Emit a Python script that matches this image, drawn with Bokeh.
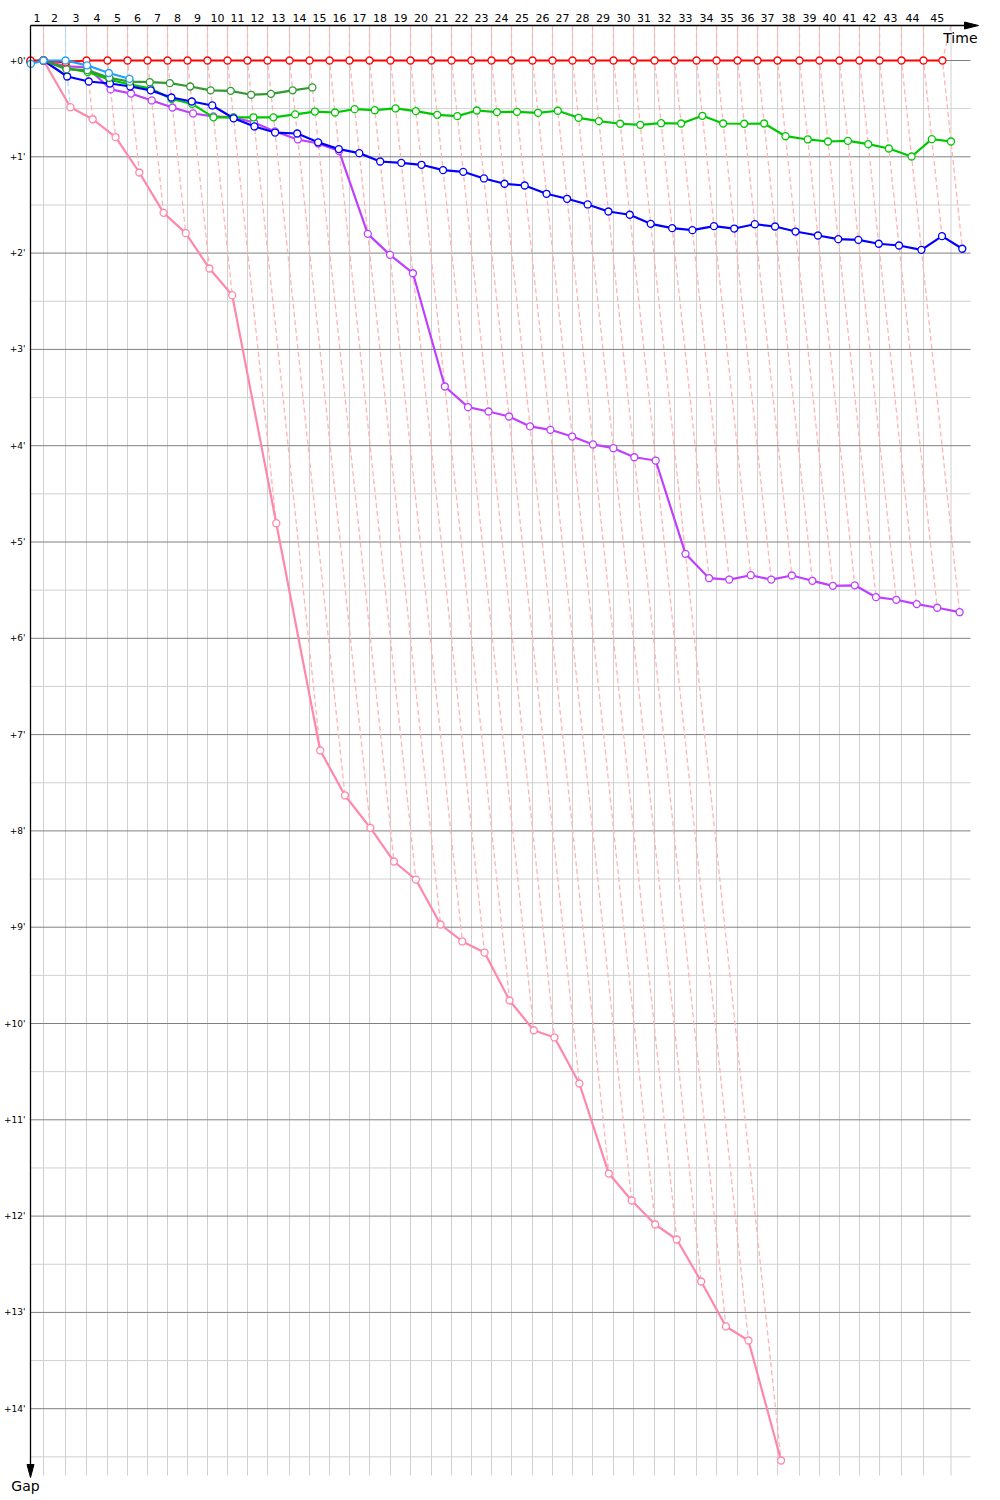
import numpy as np
from bokeh.plotting import figure
from bokeh.models import Range1d
from bokeh.core.properties import value
from bokeh.embed import file_html
from bokeh.resources import INLINE

# ---------------- data (minutes) ----------------
# leader's cumulative time at the end of each lap (lap 0 .. 45)
lap_times = [0.00, 1.28, 3.45, 5.52, 7.59, 9.56, 11.53, 13.50, 15.47, 17.44,
             19.41, 21.38, 23.35, 25.52, 27.49, 29.46, 31.43, 33.40, 35.47, 37.44,
             39.51, 41.48, 43.45, 45.42, 47.39, 49.46, 51.43, 53.40, 55.37, 57.44,
             59.41, 61.48, 63.45, 65.62, 67.59, 69.66, 71.63, 73.60, 75.76, 77.73,
             79.70, 81.67, 83.65, 85.81, 87.98, 89.85]
finish_time = 90.69
lap_labels = [str(i) for i in range(1, 46)]
gap_ticks = [0, 1, 2, 3, 4, 5, 6, 7, 8, 9, 10, 11, 12, 13, 14]
gap_tick_labels = ["+0'", "+1'", "+2'", "+3'", "+4'", "+5'", "+6'", "+7'",
                   "+8'", "+9'", "+10'", "+11'", "+12'", "+13'", "+14'"]

# gap to leader (minutes) per lap, starting at lap 0
red_gaps = [0.0, 0.0, 0.02, 0.0, 0.0, 0.0, 0.0, 0.0, 0.0, 0.0,
            0.0, 0.0, 0.0, 0.0, 0.0, 0.0, 0.0, 0.0, 0.0, 0.0,
            0.0, 0.0, 0.0, 0.0, 0.0, 0.0, 0.0, 0.0, 0.0, 0.0,
            0.0, 0.0, 0.0, 0.0, 0.0, 0.0, 0.0, 0.0, 0.0, 0.0,
            0.0, 0.0, 0.0, 0.0, 0.0, 0.0]
cyan_gaps = [0.035, 0.0, 0.0, 0.05, 0.13, 0.19]
darkgreen_gaps = [0.01, 0.0, 0.09, 0.10, 0.18, 0.22, 0.225, 0.235, 0.27, 0.31,
                  0.315, 0.356, 0.346, 0.31, 0.28]
green_gaps = [0.01, 0.0, 0.08, 0.12, 0.20, 0.25, 0.29, 0.40, 0.45, 0.59,
              0.59, 0.59, 0.59, 0.56, 0.53, 0.54, 0.505, 0.516, 0.498, 0.526,
              0.564, 0.578, 0.519, 0.536, 0.533, 0.543, 0.522, 0.595, 0.63, 0.657,
              0.668, 0.651, 0.654, 0.574, 0.654, 0.657, 0.654, 0.786, 0.82, 0.841,
              0.834, 0.869, 0.914, 0.997, 0.817, 0.841]
blue_gaps = [0.02, 0.0, 0.166, 0.218, 0.239, 0.27, 0.31, 0.384, 0.426, 0.467,
             0.60, 0.685, 0.748, 0.758, 0.85, 0.92, 0.962, 1.049, 1.063, 1.083,
             1.139, 1.156, 1.225, 1.28, 1.298, 1.384, 1.436, 1.495, 1.568, 1.602,
             1.696, 1.741, 1.762, 1.72, 1.745, 1.70, 1.724, 1.776, 1.817, 1.855,
             1.862, 1.903, 1.921, 1.966, 1.824, 1.955]
purple_gaps = [0.015, 0.0, 0.06, 0.07, 0.30, 0.343, 0.415, 0.488, 0.55, 0.58,
               0.59, 0.644, 0.737, 0.82, 0.862, 0.94, 1.80, 2.018, 2.209, 3.385,
               3.60, 3.645, 3.697, 3.80, 3.835, 3.905, 3.987, 4.026, 4.12, 4.154,
               5.123, 5.376, 5.39, 5.345, 5.39, 5.348, 5.403, 5.455, 5.45, 5.573,
               5.60, 5.645, 5.683, 5.729]
pink_gaps = [0.01, 0.0, 0.485, 0.61, 0.796, 1.163, 1.582, 1.793, 2.16, 2.437,
             4.805, 7.165, 7.632, 7.968, 8.318, 8.505, 8.972, 9.148, 9.263, 9.761,
             10.07, 10.145, 10.623, 11.558, 11.838, 12.087, 12.243, 12.679, 13.146, 13.292,
             14.538]

# drawing order (bottom to top) and colours
series = [
    ("pink", pink_gaps, "#ff88aa", "#ffb4b4"),
    ("purple", purple_gaps, "#bf3fff", "#ffb4b4"),
    ("green", green_gaps, "#00c800", "#ffb4b4"),
    ("blue", blue_gaps, "#0000ff", "#ffb4b4"),
    ("darkgreen", darkgreen_gaps, "#339933", "#ffb4b4"),
    ("red", red_gaps, "#ff0000", "#ffb4b4"),
    ("cyan", cyan_gaps, "#20a0ff", "#b4dcff"),
]
leader_priority = ["red", "cyan", "darkgreen", "green", "blue", "purple", "pink"]

# ---------------- layout ----------------
W, H = 1000, 1500
XPX = 10.15      # px per minute of time
YPX = 96.3       # px per minute of gap
OX, OY = 30, 60  # position of (time 0, gap 0) inside the figure


def dx(px):
    return px / XPX


def dy(px):
    return px / YPX


top = dy(-35)
bottom = dy(1415)
right = dx(940)

p = figure(width=W, height=H, output_backend="svg", toolbar_location=None,
           x_range=Range1d(dx(-OX), dx(W - OX)),
           y_range=Range1d(dy(H - OY), dy(-OY)),
           x_axis_location=None, y_axis_location=None, min_border=0)
p.grid.visible = False
p.outline_line_color = None
p.background_fill_color = "white"

font = value("DejaVu Sans")

# grid
grid_times = lap_times[:45] + [finish_time]
p.segment(x0=grid_times, y0=[top] * len(grid_times), x1=grid_times,
          y1=[bottom] * len(grid_times), line_color="#d0d0d0", line_width=1)
half = [g + 0.5 for g in gap_ticks]
p.segment(x0=[0] * len(half), y0=half, x1=[right] * len(half), y1=half,
          line_color="#d0d0d0", line_width=1)
p.segment(x0=[0] * len(gap_ticks), y0=gap_ticks, x1=[right] * len(gap_ticks),
          y1=gap_ticks, line_color="#808080", line_width=1)

# lap lines (dashed), coloured by the leader of the lap
color_of = {name: dash for name, _, _, dash in series}
xs, ys, cs = [], [], []
for k in range(1, 46):
    pts = []
    for name, gaps, _, _ in series:
        if k < len(gaps):
            pts.append((gaps[k], leader_priority.index(name), name))
    pts.sort()
    lead = pts[0][2]
    lx = [grid_times[k]] + [lap_times[k] + g for g, _, _ in pts]
    ly = [top] + [g for g, _, _ in pts]
    xs.append(lx)
    ys.append(ly)
    cs.append(color_of[lead])
p.multi_line(xs, ys, line_color=cs, line_dash="5 3", line_width=1.3)

# driver lines
for name, gaps, col, _ in series:
    n = len(gaps)
    x = [lap_times[k] + gaps[k] for k in range(n)]
    y = list(gaps)
    p.line(x, y, line_color=col, line_width=2.2)
    p.scatter(x, y, size=7, fill_color="white", line_color=col, line_width=1.3)

# axes with arrows
p.line([0, dx(940)], [top, top], line_color="black", line_width=1.3)
p.patch([dx(948), dx(934), dx(934)], [top, top - dy(3.5), top + dy(3.5)],
        color="black")
p.line([0, 0], [top, dy(1406)], line_color="black", line_width=1.3)
p.patch([0, dx(-3.5), dx(3.5)], [dy(1417), dy(1404), dy(1404)], color="black")

# labels
mids = [(grid_times[k - 1] + grid_times[k]) / 2 for k in range(1, 46)]
p.text(mids, [dy(-43)] * len(mids), text=lap_labels, text_font=font,
       text_font_size="11px", text_align="center", text_baseline="middle",
       text_color="black")
p.text([dx(-5)] * len(gap_ticks), gap_ticks, text=gap_tick_labels, text_font=font,
       text_font_size="9px", text_align="right", text_baseline="middle",
       text_color="black")
p.text([dx(947)], [dy(-31)], text=["Time"], text_font=font, text_font_size="14px",
       text_align="right", text_baseline="top", text_color="black")
p.text([dx(-5)], [dy(1425)], text=["Gap"], text_font=font, text_font_size="14px",
       text_align="center", text_baseline="middle", text_color="black")

open("out.html", "w").write(file_html(p, INLINE))
